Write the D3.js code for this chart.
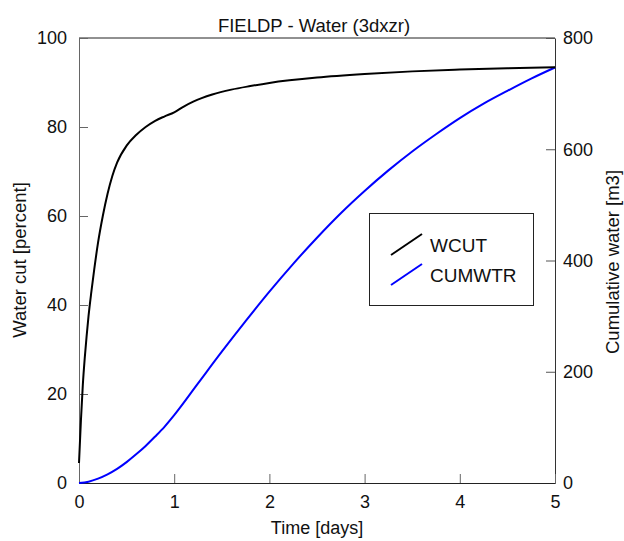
<!DOCTYPE html>
<html>
<head>
<meta charset="utf-8">
<script src="https://cdn.jsdelivr.net/npm/d3@7"></script>
<style>
  body { margin: 0; background: #fff; }
  text { font-family: "Liberation Sans", Arial, sans-serif; fill: #111; }
</style>
</head>
<body>
<svg id="chart" width="624" height="541"></svg>
<script>
// values
var wcutTime = [0, 0.02, 0.04, 0.06, 0.08, 0.1, 0.13, 0.16, 0.2, 0.25, 0.3, 0.35, 0.4, 0.5, 0.6, 0.7, 0.8, 0.9, 1.0, 1.1, 1.2, 1.4, 1.6, 1.8, 2.0, 2.5, 3.0, 3.5, 4.0, 4.5, 5];
var wcut = [4.5, 14, 22, 28, 33, 37.5, 43, 48, 54, 60, 65, 69, 72, 75.8, 78.2, 80, 81.4, 82.4, 83.3, 84.6, 85.7, 87.3, 88.4, 89.2, 89.9, 91.1, 91.9, 92.5, 92.9, 93.2, 93.4];
var cumTime = [0, 0.1, 0.2, 0.3, 0.4, 0.5, 0.6, 0.7, 0.8, 0.9, 1.0, 1.25, 1.5, 1.75, 2.0, 2.25, 2.5, 2.75, 3.0, 3.25, 3.5, 3.75, 4.0, 4.25, 4.5, 4.75, 5];
var cumwtr = [0, 2.4, 7.9, 15.6, 25.4, 37.5, 51.5, 66.6, 83.6, 101.5, 122, 179, 236, 291, 344, 394, 441, 485, 525, 562, 596, 627, 656, 682, 705, 727, 747];
var xTicks = [0, 1, 2, 3, 4, 5];
var leftTicks = [0, 20, 40, 60, 80, 100];
var rightTicks = [0, 200, 400, 600, 800];

var plotLeft = 79, plotRight = 555, plotTop = 38, plotBottom = 483;
var tickLen = 9;

var svg = d3.select("#chart");

var x = d3.scaleLinear().domain([0, 5]).range([plotLeft, plotRight]);
var yL = d3.scaleLinear().domain([0, 100]).range([plotBottom, plotTop]);
var yR = d3.scaleLinear().domain([0, 800]).range([plotBottom, plotTop]);

// top frame line
svg.append("line").attr("x1", plotLeft).attr("x2", plotRight).attr("y1", plotTop).attr("y2", plotTop)
  .attr("stroke", "#222");

// left axis, ticks pointing inward
var gl = svg.append("g").attr("transform", "translate(" + plotLeft + ",0)")
  .call(d3.axisLeft(yL).tickValues(leftTicks).tickSize(-tickLen).tickPadding(12).tickSizeOuter(0).tickFormat(d3.format("d")));
gl.select(".domain").attr("stroke", "#666");
gl.selectAll(".tick line").attr("stroke", "#666");

// right axis
var gr = svg.append("g").attr("transform", "translate(" + plotRight + ",0)")
  .call(d3.axisRight(yR).tickValues(rightTicks).tickSize(-tickLen).tickPadding(8).tickSizeOuter(0).tickFormat(d3.format("d")));
gr.select(".domain").attr("stroke", "#333");
gr.selectAll(".tick line").attr("stroke", "#555");

// bottom axis
var gb = svg.append("g").attr("transform", "translate(0," + plotBottom + ")")
  .call(d3.axisBottom(x).tickValues(xTicks).tickSize(-tickLen).tickPadding(12).tickSizeOuter(0).tickFormat(d3.format("d")));
gb.select(".domain").attr("stroke", "#222");
gb.selectAll(".tick line").attr("stroke", "#666");

svg.selectAll(".tick text").style("font-size", "18px").attr("fill", "#111")
  .style("font-family", "'Liberation Sans', Arial, sans-serif");

// lines
var wcutData = wcutTime.map(function(t, i){ return [t, wcut[i]]; });
var cumData = cumTime.map(function(t, i){ return [t, cumwtr[i]]; });

svg.append("path").datum(cumData)
  .attr("fill", "none").attr("stroke", "#0000ff").attr("stroke-width", 2)
  .attr("d", d3.line().x(function(d){ return x(d[0]); }).y(function(d){ return yR(d[1]); }).curve(d3.curveMonotoneX));

svg.append("path").datum(wcutData)
  .attr("fill", "none").attr("stroke", "#000").attr("stroke-width", 2)
  .attr("d", d3.line().x(function(d){ return x(d[0]); }).y(function(d){ return yL(d[1]); }).curve(d3.curveMonotoneX));

// titles
svg.append("text").attr("x", 314).attr("y", 32).attr("text-anchor", "middle")
  .style("font-size", "18.5px").text("FIELDP - Water (3dxzr)");
svg.append("text").attr("x", 317).attr("y", 534).attr("text-anchor", "middle")
  .style("font-size", "18px").text("Time [days]");
svg.append("text").attr("transform", "translate(26,260) rotate(-90)").attr("text-anchor", "middle")
  .style("font-size", "18.5px").text("Water cut [percent]");
svg.append("text").attr("transform", "translate(619,262) rotate(-90)").attr("text-anchor", "middle")
  .style("font-size", "18.5px").text("Cumulative water [m3]");

// legend
var legendNames = ["WCUT", "CUMWTR"];
var legendColors = ["#000", "#0000ff"];
var lg = svg.append("g");
lg.append("rect").attr("x", 369.5).attr("y", 213.5).attr("width", 164).attr("height", 92)
  .attr("fill", "#fff").attr("stroke", "#222");
legendNames.forEach(function(n, i){
  var yb = 252 + i * 30;
  lg.append("line").attr("x1", 391).attr("y1", yb + 3).attr("x2", 422).attr("y2", yb - 18)
    .attr("stroke", legendColors[i]).attr("stroke-width", 2);
  lg.append("text").attr("x", 430).attr("y", yb).style("font-size", "19px").text(n);
});
</script>
</body>
</html>
